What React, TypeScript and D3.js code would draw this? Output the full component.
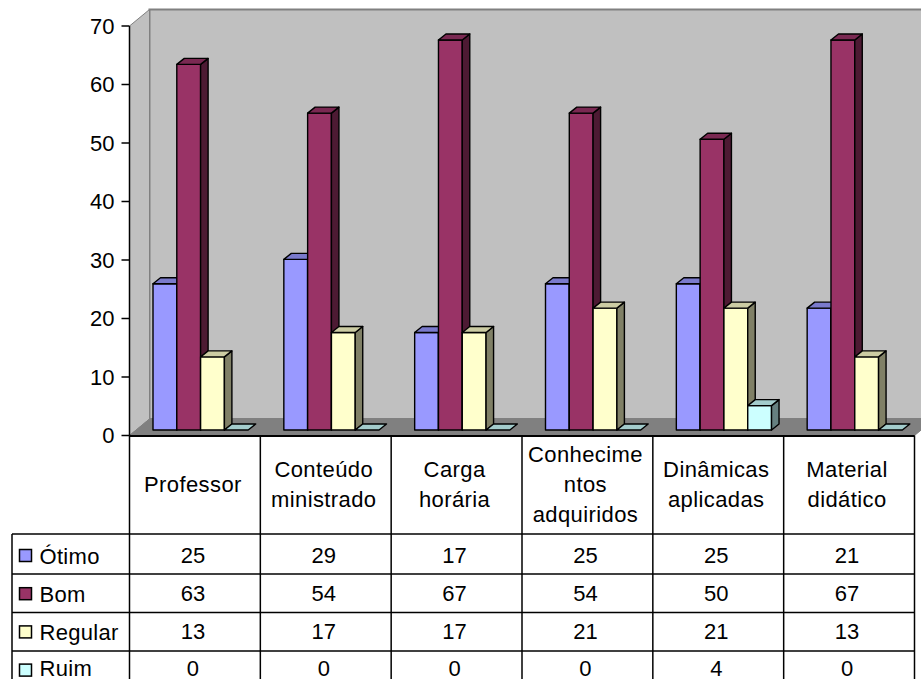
import React from "react";
import * as d3 from "d3";

const categories = [["Professor"], ["Conteúdo", "ministrado"], ["Carga", "horária"], ["Conhecime", "ntos", "adquiridos"], ["Dinâmicas", "aplicadas"], ["Material", "didático"]];
const seriesNames = ["Ótimo", "Bom", "Regular", "Ruim"];
const otimo = [25, 29.17, 16.67, 25, 25, 20.83];
const bom = [62.5, 54.17, 66.67, 54.17, 49.7, 66.67];
const regular = [12.5, 16.67, 16.67, 20.83, 20.83, 12.5];
const ruim = [0, 0, 0, 0, 4.17, 0];
const series = [otimo, bom, regular, ruim];
const ticks = [0, 10, 20, 30, 40, 50, 60, 70];
const colors = ["#9999FF", "#993366", "#FFFFCC", "#CCFFFF"];

const FONT = "'Liberation Sans', Arial, sans-serif";
const FS = 22;
const axisY = d3.scaleLinear().domain([0, 70]).range([435.5, 26]);
const barH = d3.scaleLinear().domain([0, 70]).range([0, 409.5]);
const colX = d3.scaleLinear().domain([0, 6]).range([129.5, 914.5]);
const wallDx = 20, wallDy = 16.5;
const barBase = 430, barW = 23.8, barPad = 23.5, depthX = 7.5, depthY = 6;
const rowY = [436, 534, 574, 612.5, 651];
const textShift = -2;
const lastBaseline = 675.5;

const shade = (c: string, k: number) => {
  const r = d3.rgb(c);
  return d3.rgb(r.r * k, r.g * k, r.b * k).formatHex();
};
const pts = (p: number[][]) => p.map((q) => q.join(",")).join(" ");

export default function App() {
  const top = axisY(70), bot = axisY(0), L = colX(0), R = colX(6);
  return (
    <svg width={921} height={679} style={{ position: "absolute", left: 0, top: 0, background: "#fff" }} fontFamily={FONT} fontSize={FS} fill="#000">
      <polygon points={pts([[L + wallDx, top - wallDy], [R + wallDx, top - wallDy], [R + wallDx, bot - wallDy], [L + wallDx, bot - wallDy]])} fill="#C0C0C0" stroke="#808080" strokeWidth={2} />
      <polygon points={pts([[L, top], [L + wallDx, top - wallDy], [L + wallDx, bot - wallDy], [L, bot]])} fill="#C0C0C0" stroke="#808080" strokeWidth={1} />
      <polygon points={pts([[L, bot], [L + wallDx, bot - wallDy], [R + wallDx, bot - wallDy], [R, bot]])} fill="#808080" stroke="#808080" strokeWidth={1} />
      {categories.map((_, c) =>
        series.map((vals, s) => {
          const x0 = colX(c) + barPad + s * barW;
          const x1 = x0 + barW;
          const h = barH(vals[c]);
          const y = barBase - h;
          const col = colors[s];
          return (
            <g key={`${c}-${s}`} stroke="#000" strokeWidth={1.4} strokeLinejoin="round">
              {h > 0 && <rect x={x0} y={y} width={barW} height={h} fill={col} />}
              {h > 0 && <polygon points={pts([[x1, y], [x1 + depthX, y - depthY], [x1 + depthX, barBase - depthY], [x1, barBase]])} fill={shade(col, 0.5)} />}
              <polygon points={pts([[x0, y], [x1, y], [x1 + depthX, y - depthY], [x0 + depthX, y - depthY]])} fill={shade(col, 0.8)} />
            </g>
          );
        })
      )}
      <line x1={L} x2={L} y1={top} y2={bot} stroke="#000" strokeWidth={1.5} />
      {ticks.map((t) => (
        <g key={t}>
          <line x1={L - 8} x2={L} y1={axisY(t)} y2={axisY(t)} stroke="#000" strokeWidth={1.5} />
          <text x={114.5} y={axisY(t)} textAnchor="end" dominantBaseline="central">{t}</text>
        </g>
      ))}
      <g stroke="#000" strokeWidth={1.5}>
        <line x1={L} x2={R} y1={rowY[0]} y2={rowY[0]} strokeWidth={2} />
        {rowY.slice(1).map((y) => <line key={y} x1={12} x2={R} y1={y} y2={y} />)}
        <line x1={12} x2={12} y1={rowY[1]} y2={679} />
        {d3.range(0, 7).map((i) => <line key={i} x1={colX(i)} x2={colX(i)} y1={bot} y2={679} />)}
      </g>
      {categories.map((lines, c) => (
        <text key={c} textAnchor="middle" letterSpacing={0.4}>
          {lines.map((ln, i) => (
            <tspan key={i} x={colX(c + 0.5) + textShift} y={491.5 + (i - (lines.length - 1) / 2) * 30}>{ln}</tspan>
          ))}
        </text>
      ))}
      {seriesNames.map((n, s) => (
        <g key={n}>
          <rect x={19.5} y={555.5 + s * 38.2 - 6} width={12} height={12} fill={colors[s]} stroke="#000" strokeWidth={1.5} />
          <text x={39.5} y={Math.min(564 + s * 38.1, lastBaseline)} letterSpacing={0.3}>{n}</text>
          {series[s].map((v, c) => (
            <text key={c} x={colX(c + 0.5) + textShift} y={Math.min(563 + s * 38, lastBaseline)} textAnchor="middle">{Math.round(v)}</text>
          ))}
        </g>
      ))}
    </svg>
  );
}
